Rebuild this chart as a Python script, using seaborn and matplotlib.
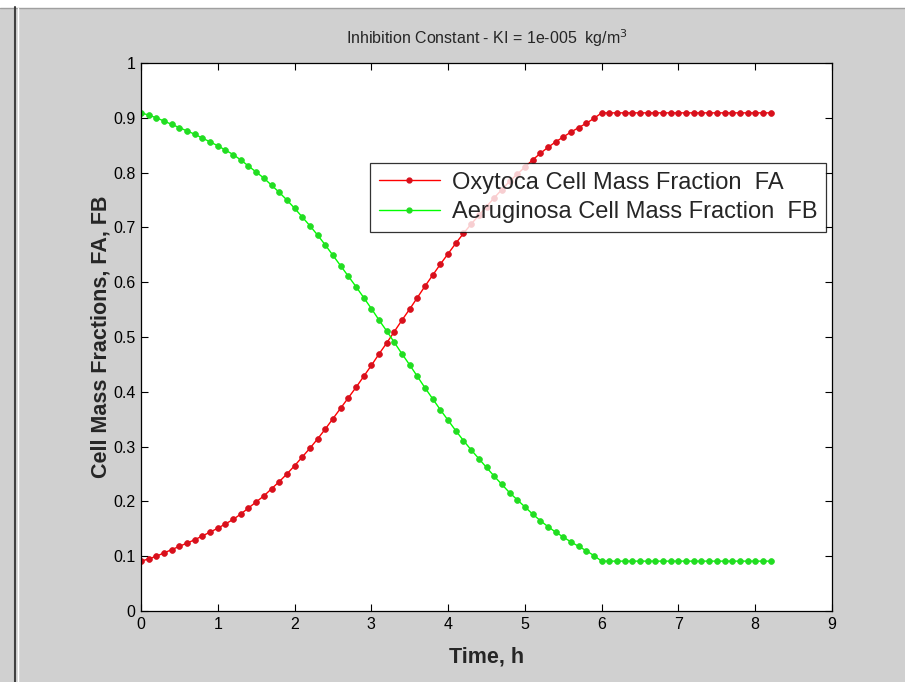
import matplotlib
matplotlib.use("Agg")
import matplotlib.pyplot as plt
import seaborn as sns
import pandas as pd
from matplotlib.lines import Line2D

time_h = [0.0, 0.1, 0.2, 0.3, 0.4, 0.5, 0.6, 0.7, 0.8, 0.9,
          1.0, 1.1, 1.2, 1.3, 1.4, 1.5, 1.6, 1.7, 1.8, 1.9,
          2.0, 2.1, 2.2, 2.3, 2.4, 2.5, 2.6, 2.7, 2.8, 2.9,
          3.0, 3.1, 3.2, 3.3, 3.4, 3.5, 3.6, 3.7, 3.8, 3.9,
          4.0, 4.1, 4.2, 4.3, 4.4, 4.5, 4.6, 4.7, 4.8, 4.9,
          5.0, 5.1, 5.2, 5.3, 5.4, 5.5, 5.6, 5.7, 5.8, 5.9,
          6.0, 6.1, 6.2, 6.3, 6.4, 6.5, 6.6, 6.7, 6.8, 6.9,
          7.0, 7.1, 7.2, 7.3, 7.4, 7.5, 7.6, 7.7, 7.8, 7.9,
          8.0, 8.1, 8.2]

fa_oxytoca = [0.091, 0.095, 0.100, 0.106, 0.112, 0.118, 0.124, 0.130, 0.137, 0.144,
              0.151, 0.159, 0.167, 0.177, 0.188, 0.199, 0.210, 0.223, 0.236, 0.250,
              0.265, 0.281, 0.297, 0.314, 0.332, 0.351, 0.370, 0.389, 0.408, 0.428,
              0.448, 0.469, 0.489, 0.510, 0.531, 0.551, 0.572, 0.593, 0.613, 0.633,
              0.652, 0.671, 0.689, 0.706, 0.722, 0.738, 0.754, 0.769, 0.784, 0.797,
              0.810, 0.823, 0.835, 0.846, 0.856, 0.865, 0.874, 0.882, 0.890, 0.899,
              0.909, 0.909, 0.909, 0.909, 0.909, 0.909, 0.909, 0.909, 0.909, 0.909,
              0.909, 0.909, 0.909, 0.909, 0.909, 0.909, 0.909, 0.909, 0.909, 0.909,
              0.909, 0.909, 0.909]

fb_aeruginosa = [0.909, 0.905, 0.900, 0.894, 0.888, 0.882, 0.876, 0.870, 0.863, 0.856,
                 0.849, 0.841, 0.833, 0.823, 0.812, 0.801, 0.790, 0.777, 0.764, 0.750,
                 0.735, 0.719, 0.703, 0.686, 0.668, 0.649, 0.630, 0.611, 0.592, 0.572,
                 0.552, 0.531, 0.511, 0.490, 0.469, 0.449, 0.428, 0.407, 0.387, 0.367,
                 0.348, 0.329, 0.311, 0.294, 0.278, 0.262, 0.246, 0.231, 0.216, 0.203,
                 0.190, 0.177, 0.165, 0.154, 0.144, 0.135, 0.126, 0.118, 0.110, 0.101,
                 0.091, 0.091, 0.091, 0.091, 0.091, 0.091, 0.091, 0.091, 0.091, 0.091,
                 0.091, 0.091, 0.091, 0.091, 0.091, 0.091, 0.091, 0.091, 0.091, 0.091,
                 0.091, 0.091, 0.091]

series_labels = ["Oxytoca Cell Mass Fraction  FA", "Aeruginosa Cell Mass Fraction  FB"]
series_colors = ["#ff0000", "#00ff00"]
marker_colors = ["#d8101c", "#22dd22"]
x_ticks = [0, 1, 2, 3, 4, 5, 6, 7, 8, 9]
y_ticks = [0, 0.1, 0.2, 0.3, 0.4, 0.5, 0.6, 0.7, 0.8, 0.9, 1]
y_tick_labels = ["0", "0.1", "0.2", "0.3", "0.4", "0.5", "0.6", "0.7", "0.8", "0.9", "1"]

sns.set_style("ticks")
plt.rcParams['font.family'] = ['Liberation Sans', 'DejaVu Sans']

bg = "#d0d0d0"
fig = plt.figure(figsize=(9.05, 6.82), dpi=100, facecolor=bg)
ax = fig.add_axes([141/905, 1 - 611/682, (832-141)/905, (611-63)/682])
ax.set_facecolor("white")

for lab, col, mcol, vals in zip(series_labels, series_colors, marker_colors,
                                [fa_oxytoca, fb_aeruginosa]):
    df = pd.DataFrame({"t": time_h, "v": vals})
    sns.lineplot(data=df, x="t", y="v", color=col, marker="o", markersize=4.2,
                 markerfacecolor=mcol, markeredgecolor=mcol, markeredgewidth=0.5,
                 linewidth=1.0, estimator=None, sort=False, ax=ax, legend=False)

ax.set_xlim(0, 9)
ax.set_ylim(0, 1)
ax.set_xticks(x_ticks)
ax.set_xticklabels([str(v) for v in x_ticks])
ax.set_yticks(y_ticks)
ax.set_yticklabels(y_tick_labels)
ax.tick_params(direction="in", length=5, width=0.8, top=True, right=True,
               labelsize=11.5, colors="black", pad=4)
for sp in ax.spines.values():
    sp.set_visible(True)
    sp.set_color("black")
    sp.set_linewidth(0.9)

ax.set_xlabel("Time, h", fontsize=15.5, fontweight="bold", labelpad=11)
ax.set_ylabel("Cell Mass Fractions, FA, FB", fontsize=15.5, fontweight="bold", labelpad=1)
ax.set_title("Inhibition Constant - KI = 1e-005  kg/m$^3$", fontsize=11.5, pad=14)

handles = [Line2D([0], [0], color=c, marker="o", markersize=3.5, markerfacecolor=m,
                  markeredgecolor=m, linewidth=1.0)
           for c, m in zip(series_colors, marker_colors)]
leg = ax.legend(handles, series_labels, loc="upper left", bbox_to_anchor=(0.331, 0.818),
                fontsize=17, frameon=True, fancybox=False, handlelength=2.6,
                borderpad=0.38, labelspacing=0.32, handletextpad=0.5, borderaxespad=0)
leg.get_frame().set_edgecolor("black")
leg.get_frame().set_linewidth(0.9)

# window frame decorations
fig.add_artist(Line2D([0, 1], [1 - 4/682, 1 - 4/682], transform=fig.transFigure, color="white", linewidth=7))
fig.add_artist(Line2D([0, 1], [1 - 8/682, 1 - 8/682], transform=fig.transFigure, color="#a0a0a0", linewidth=1))
fig.add_artist(Line2D([14.5/905, 14.5/905], [0, 1 - 7/682], transform=fig.transFigure, color="#404040", linewidth=1.5))
fig.add_artist(Line2D([17.5/905, 17.5/905], [0, 1 - 8/682], transform=fig.transFigure, color="white", linewidth=1))

fig.savefig("out.png", dpi=100, facecolor=bg)
